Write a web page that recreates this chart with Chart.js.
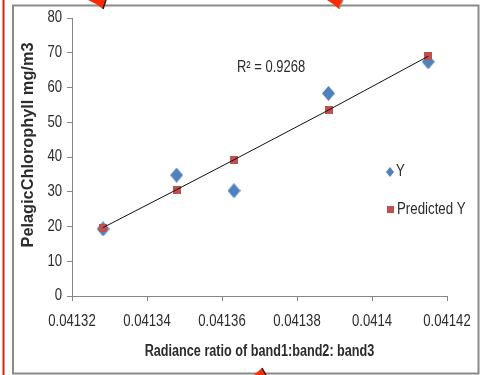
<!DOCTYPE html>
<html>
<head>
<meta charset="utf-8">
<script src="https://cdn.jsdelivr.net/npm/chart.js@4/dist/chart.umd.min.js"></script>
<style>
  html, body { margin: 0; padding: 0; background: #fff; }
  #wrap { width: 490px; height: 375px; }
</style>
</head>
<body>
<div id="wrap"><canvas id="c" width="490" height="375"></canvas></div>
<script>
// Band ratio samples and the chlorophyll values
const ratios = [0.0413283, 0.0413479, 0.0413632, 0.0413884, 0.0414150];
const observedY = [19.3, 34.8, 30.3, 58.3, 67.4];
const predictedY = [19.7, 30.6, 39.2, 53.5, 69.0];

// Axis ticks
const xTicks = [0.04132, 0.04134, 0.04136, 0.04138, 0.0414, 0.04142];
const yTicks = [0, 10, 20, 30, 40, 50, 60, 70, 80];

// Texts
const xTitle = 'Radiance ratio of band1:band2: band3';
const yTitle = 'PelagicChlorophyll mg/m3';
const rSquaredLabel = 'R\u00B2 = 0.9268';
const seriesNames = ['Y', 'Predicted Y'];

const FAMILY = '"Liberation Sans", Arial, sans-serif';
const SQUEEZE = 0.82;          // condensed look for the labels
const BLUE = '#4F81BD';
const RED = '#C0504D';
const AXIS = '#868686';
const INK = '#2b2b2b';

function diamond(w, h, color) {
  const c = document.createElement('canvas');
  c.width = w; c.height = h;
  const g = c.getContext('2d');
  g.beginPath();
  g.moveTo(w / 2, 0); g.lineTo(w, h / 2); g.lineTo(w / 2, h); g.lineTo(0, h / 2);
  g.closePath();
  g.fillStyle = color; g.fill();
  return c;
}
function square(s, color) {
  const c = document.createElement('canvas');
  c.width = s; c.height = s;
  const g = c.getContext('2d');
  g.fillStyle = color; g.fillRect(0, 0, s, s);
  return c;
}
const diamondPt = diamond(13, 15, BLUE);
const squarePt = square(8, RED);
const diamondKey = diamond(8, 10, BLUE);
const squareKey = square(7, RED);

// Text with horizontal compression, vertically centred on y
function squeezedText(ctx, txt, x, y, font, align, sx, rot) {
  ctx.save();
  ctx.translate(x, y);
  if (rot) ctx.rotate(rot);
  ctx.scale(sx, 1);
  ctx.font = font;
  ctx.fillStyle = INK;
  ctx.textAlign = align;
  ctx.textBaseline = 'middle';
  ctx.fillText(txt, 0, 0);
  ctx.restore();
}

const fmt = v => Number(v.toFixed(5)).toString();

// Frame, side rule, arrow heads, axis labels, titles, R² note and series key
const framePlugin = {
  id: 'frame',
  beforeDraw(chart) {
    const ctx = chart.ctx;
    ctx.save();
    ctx.fillStyle = '#fff';
    ctx.fillRect(0, 0, chart.width, chart.height);
    ctx.strokeStyle = '#DA2414';
    ctx.lineWidth = 2;
    ctx.beginPath(); ctx.moveTo(3.5, 0); ctx.lineTo(3.5, chart.height); ctx.stroke();
    ctx.strokeStyle = '#8a8a8a';
    ctx.lineWidth = 2;
    ctx.strokeRect(13, 5.5, 465.5, 368);
    ctx.restore();
  },
  afterDraw(chart) {
    const ctx = chart.ctx;
    const area = chart.chartArea;
    const xs = chart.scales.x;
    const ys = chart.scales.y;
    ctx.save();
    const arrow = (pts, edge) => {
      ctx.beginPath();
      ctx.moveTo(pts[0][0], pts[0][1]);
      for (let i = 1; i < pts.length; i++) ctx.lineTo(pts[i][0], pts[i][1]);
      ctx.closePath();
      ctx.fillStyle = '#FF2A00';
      ctx.fill();
      ctx.strokeStyle = edge; ctx.lineWidth = 1.5;
      ctx.beginPath();
      ctx.moveTo(pts[1][0], pts[1][1]); ctx.lineTo(pts[2][0], pts[2][1]);
      ctx.stroke();
    };
    arrow([[88, 0], [106, 0], [103, 9], [96, 4]], '#222');
    arrow([[327, 0], [343, 0], [339, 9], [333, 4]], '#999');
    arrow([[254, 375], [262, 368], [266, 375]], '#222');

    const reg = '16px ' + FAMILY;
    // tick labels
    xs.ticks.forEach(t => {
      squeezedText(ctx, fmt(t.value), xs.getPixelForValue(t.value), area.bottom + 26, reg, 'center', SQUEEZE);
    });
    ys.ticks.forEach(t => {
      squeezedText(ctx, String(t.value), area.left - 10, ys.getPixelForValue(t.value), reg, 'right', SQUEEZE);
    });

    // axis titles
    squeezedText(ctx, xTitle, (area.left + area.right) / 2, area.bottom + 56, 'bold 16px ' + FAMILY, 'center', 0.79);
    squeezedText(ctx, yTitle, 29, (area.top + area.bottom) / 2 - 12, 'bold 16px ' + FAMILY, 'center', 1.02, -Math.PI / 2);

    // R-squared note
    squeezedText(ctx, rSquaredLabel, 237, 68, reg, 'left', 0.81);

    // series key
    ctx.drawImage(diamondKey, 386, 167);
    squeezedText(ctx, seriesNames[0], 396, 172, reg, 'left', SQUEEZE);
    ctx.drawImage(squareKey, 387, 206);
    squeezedText(ctx, seriesNames[1], 397, 210, reg, 'left', 0.83);
    ctx.restore();
  }
};

new Chart(document.getElementById('c'), {
  type: 'scatter',
  data: {
    datasets: [
      {
        label: 'Trend',
        data: ratios.map((x, i) => ({ x, y: predictedY[i] })),
        showLine: true,
        borderColor: '#111',
        borderWidth: 1,
        pointRadius: 0,
        fill: false
      },
      {
        label: seriesNames[1],
        data: ratios.map((x, i) => ({ x, y: predictedY[i] })),
        pointStyle: squarePt,
        pointRadius: 5
      },
      {
        label: seriesNames[0],
        data: ratios.map((x, i) => ({ x, y: observedY[i] })),
        pointStyle: diamondPt,
        pointRadius: 7
      }
    ]
  },
  options: {
    responsive: false,
    devicePixelRatio: 1,
    animation: false,
    layout: { padding: { top: 18, right: 43, left: 0, bottom: 0 } },
    plugins: { legend: { display: false }, tooltip: { enabled: false } },
    scales: {
      x: {
        type: 'linear',
        min: xTicks[0],
        max: xTicks[xTicks.length - 1],
        afterBuildTicks: s => { s.ticks = xTicks.map(v => ({ value: v })); },
        afterFit: s => { s.height = 79; },
        grid: { drawOnChartArea: false, drawTicks: true, tickLength: 5, color: AXIS },
        border: { color: AXIS, width: 1 },
        ticks: { display: false }
      },
      y: {
        min: 0,
        max: 80,
        afterBuildTicks: s => { s.ticks = yTicks.map(v => ({ value: v })); },
        afterFit: s => { s.width = 72; },
        grid: { drawOnChartArea: false, drawTicks: true, tickLength: 5, color: AXIS },
        border: { color: AXIS, width: 1 },
        ticks: { display: false }
      }
    }
  },
  plugins: [framePlugin]
});
</script>
</body>
</html>
